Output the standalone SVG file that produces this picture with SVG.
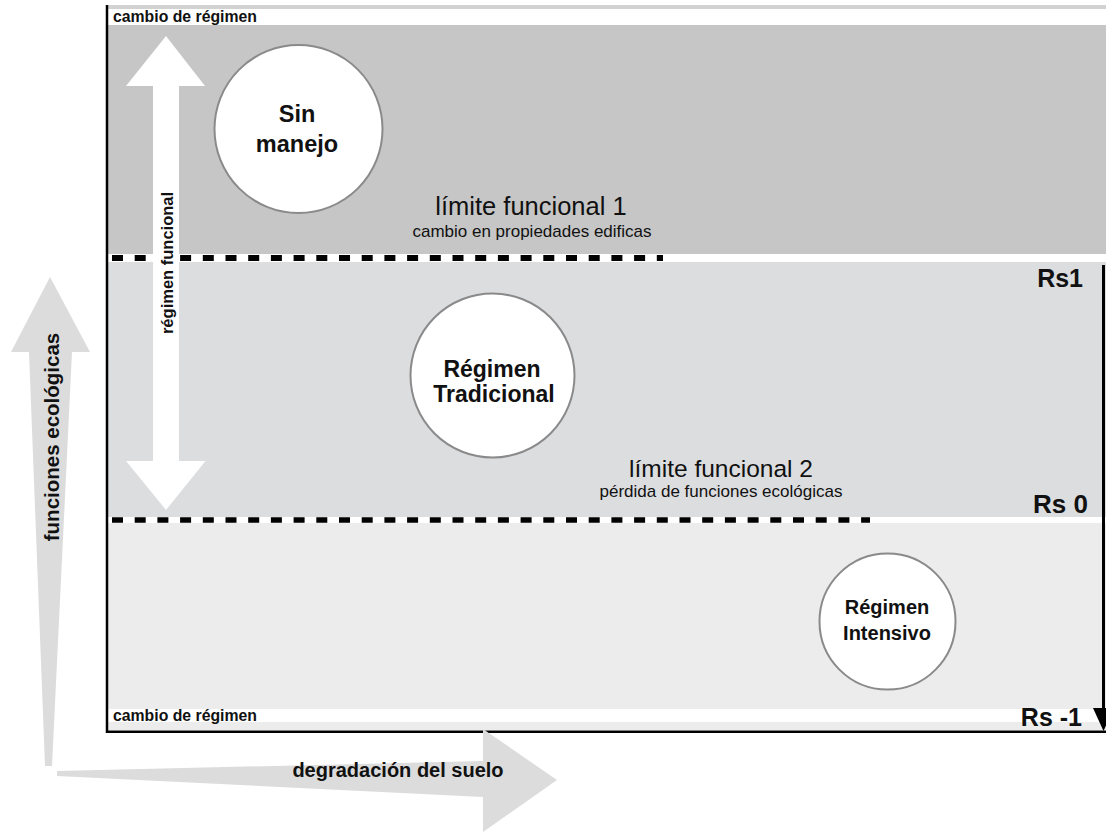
<svg xmlns="http://www.w3.org/2000/svg" width="1106" height="832" viewBox="0 0 1106 832">
<style>
.b{font-family:"Liberation Sans",Arial,sans-serif;font-weight:bold;fill:#111}
.r{font-family:"Liberation Sans",Arial,sans-serif;fill:#111}
.node circle{fill:#fff;stroke:#8a8a8a;stroke-width:2}
.dash{stroke:#000;fill:none;stroke-dasharray:11 11.7}
.axis{fill:#dcdcdc}
</style>
<rect width="1106" height="832" fill="#fff"/>
<g id="bands">
<rect x="108" y="5" width="998" height="4" fill="#d2d2d2"/>
<rect x="108" y="25" width="998" height="229" fill="#c6c6c6"/>
<rect x="108" y="262" width="998" height="255" fill="#dcdddf"/>
<rect x="108" y="523" width="998" height="186" fill="#ececec"/>
<rect x="108" y="722" width="998" height="8" fill="#ececec"/>
<line x1="107" y1="5" x2="107" y2="733" stroke="#000" stroke-width="2.5"/>
<line x1="106" y1="731.8" x2="1106" y2="731.8" stroke="#000" stroke-width="2.5"/>
<text class="b" x="113" y="22" font-size="15.8">cambio de régimen</text>
<text class="b" x="113" y="721" font-size="15.8">cambio de régimen</text>
</g>
<g id="limits">
<line class="dash" x1="112" y1="258" x2="663" y2="258" stroke-width="6"/>
<line class="dash" x1="112" y1="520" x2="870" y2="520" stroke-width="5.5"/>
<text class="r" x="531" y="215" font-size="25.5" text-anchor="middle">límite funcional 1</text>
<text class="r" x="532" y="237" font-size="17" text-anchor="middle">cambio en propiedades edificas</text>
<text class="r" x="721" y="477" font-size="24.5" text-anchor="middle">límite funcional 2</text>
<text class="r" x="721" y="497" font-size="17" text-anchor="middle">pérdida de funciones ecológicas</text>
</g>
<g id="rs-scale">
<line x1="1103.5" y1="265" x2="1103.5" y2="712" stroke="#000" stroke-width="3"/>
<polygon points="1093,708 1114,708 1103.5,731" fill="#000"/>
<text class="b" x="1083" y="287" font-size="25" text-anchor="end">Rs1</text>
<text class="b" x="1088" y="513" font-size="26" text-anchor="end">Rs 0</text>
<text class="b" x="1082" y="726" font-size="25" text-anchor="end">Rs -1</text>
</g>
<g id="regimen-funcional">
<polygon points="166,36 205,86 179,86 179,461 205.5,461 166,510 126,461 153,461 153,86 126,86" fill="#fff"/>
<text class="b" font-size="16.5" text-anchor="middle" transform="translate(173,263) rotate(-90)">régimen funcional</text>
</g>
<g id="node-sin-manejo" class="node">
<circle cx="298.5" cy="129" r="84"/>
<text class="b" x="297" y="122" font-size="23.5" text-anchor="middle">Sin</text>
<text class="b" x="297" y="152" font-size="23.5" text-anchor="middle">manejo</text>
</g>
<g id="node-tradicional" class="node">
<circle cx="492.5" cy="375.5" r="82"/>
<text class="b" x="492" y="377" font-size="23" text-anchor="middle">Régimen</text>
<text class="b" x="494" y="402" font-size="23" text-anchor="middle">Tradicional</text>
</g>
<g id="node-intensivo" class="node">
<circle cx="887.5" cy="621.5" r="68"/>
<text class="b" x="887" y="614" font-size="20" text-anchor="middle">Régimen</text>
<text class="b" x="887" y="640" font-size="20" text-anchor="middle">Intensivo</text>
</g>
<g id="axes">
<polygon class="axis" points="50,277 90,352 72,352 52,766 45,766 29,352 11,352"/>
<text class="b" font-size="20.5" text-anchor="middle" transform="translate(59,437) rotate(-90)">funciones ecológicas</text>
<polygon class="axis" points="57,771 483,761 483,729 557,780 483,832 483,797 57,776"/>
<text class="b" x="398" y="777" font-size="20" text-anchor="middle">degradación del suelo</text>
</g>
</svg>
